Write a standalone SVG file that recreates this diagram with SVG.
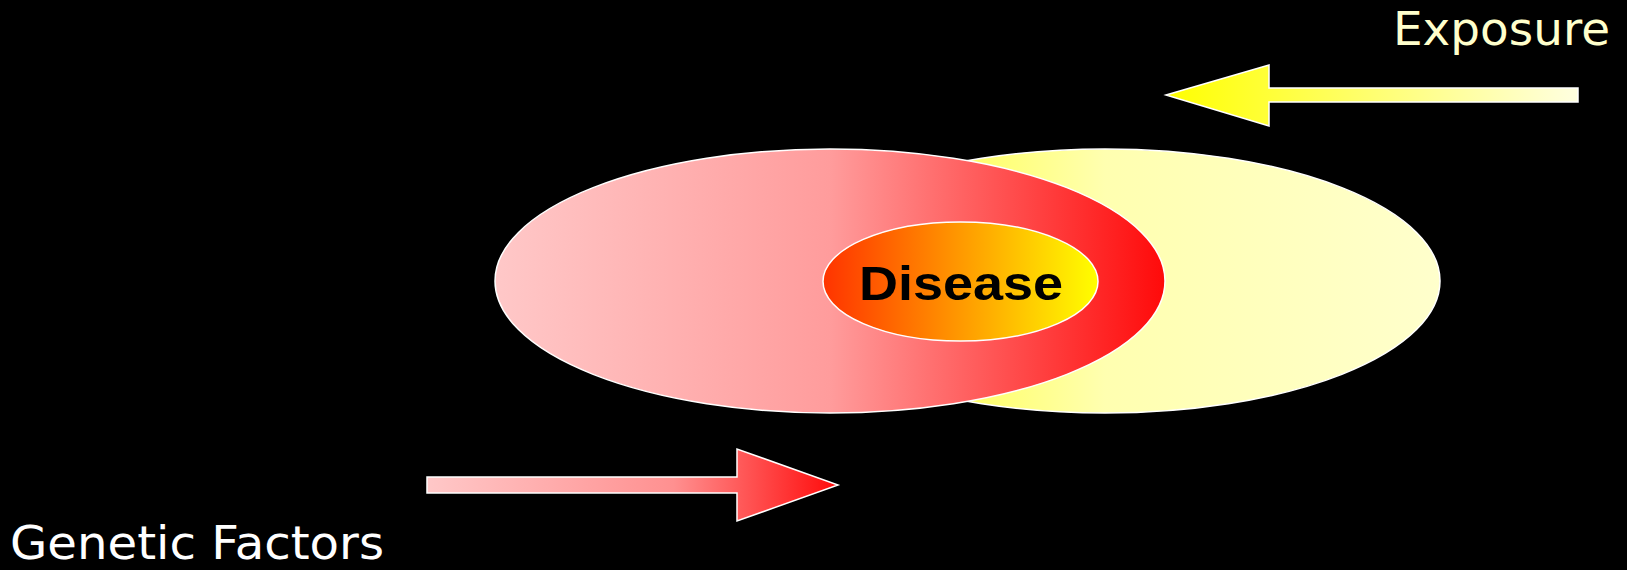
<svg xmlns="http://www.w3.org/2000/svg" width="1627" height="570" viewBox="0 0 1627 570">
  <defs>
    <linearGradient id="gRed" x1="0" y1="0" x2="1" y2="0">
      <stop offset="0" stop-color="#FFC8C8"/>
      <stop offset="0.5" stop-color="#FF9C9C"/>
      <stop offset="1" stop-color="#FF0A0A"/>
    </linearGradient>
    <linearGradient id="gYellow" x1="0" y1="0" x2="1" y2="0">
      <stop offset="0" stop-color="#FFFF00"/>
      <stop offset="0.5" stop-color="#FFFFB0"/>
      <stop offset="1" stop-color="#FFFFCC"/>
    </linearGradient>
    <linearGradient id="gInner" x1="0" y1="0" x2="1" y2="0">
      <stop offset="0" stop-color="#FF3300"/>
      <stop offset="1" stop-color="#FFFF00"/>
    </linearGradient>
    <linearGradient id="gExpArrow" x1="0" y1="0" x2="1" y2="0">
      <stop offset="0" stop-color="#FFFF00"/>
      <stop offset="1" stop-color="#FFFFE0"/>
    </linearGradient>
    <linearGradient id="gGenArrow" x1="0" y1="0" x2="1" y2="0">
      <stop offset="0" stop-color="#FFC8C8"/>
      <stop offset="0.6" stop-color="#FF9090"/>
      <stop offset="1" stop-color="#FF0A0A"/>
    </linearGradient>
  </defs>
  <style>
    .shape { stroke: #FFFFFF; stroke-width: 1.5; }
    .label { font-family: "DejaVu Sans", Verdana, sans-serif; font-size: 46px; }
    .disease { font-family: "Liberation Sans", Arial, sans-serif; font-weight: bold; font-size: 49px; fill: #000000; }
  </style>
  <rect x="0" y="0" width="1627" height="570" fill="#000000"/>

  <g id="exposure-ellipse">
    <ellipse class="shape" cx="1105" cy="281" rx="335" ry="132" fill="url(#gYellow)"/>
  </g>
  <g id="genetic-ellipse">
    <ellipse class="shape" cx="830" cy="281" rx="335" ry="132" fill="url(#gRed)"/>
  </g>
  <g id="disease">
    <ellipse class="shape" cx="960.5" cy="281.5" rx="137.5" ry="59.5" fill="url(#gInner)"/>
    <text class="disease" x="859" y="300" textLength="204" lengthAdjust="spacingAndGlyphs">Disease</text>
  </g>

  <g id="connectors">
    <polygon class="shape" fill="url(#gExpArrow)" points="1166,95 1269,65 1269,88 1578,88 1578,102 1269,102 1269,126"/>
    <polygon class="shape" fill="url(#gGenArrow)" points="427,477 737,477 737,449 838,485 737,521 737,493 427,493"/>
  </g>

  <g id="exposure-label">
    <text class="label" x="1393" y="45" textLength="217" lengthAdjust="spacingAndGlyphs" fill="#FFFFCC">Exposure</text>
  </g>
  <g id="genetic-label">
    <text class="label" x="10" y="559" textLength="374" lengthAdjust="spacingAndGlyphs" fill="#FFFFFF">Genetic Factors</text>
  </g>
</svg>
